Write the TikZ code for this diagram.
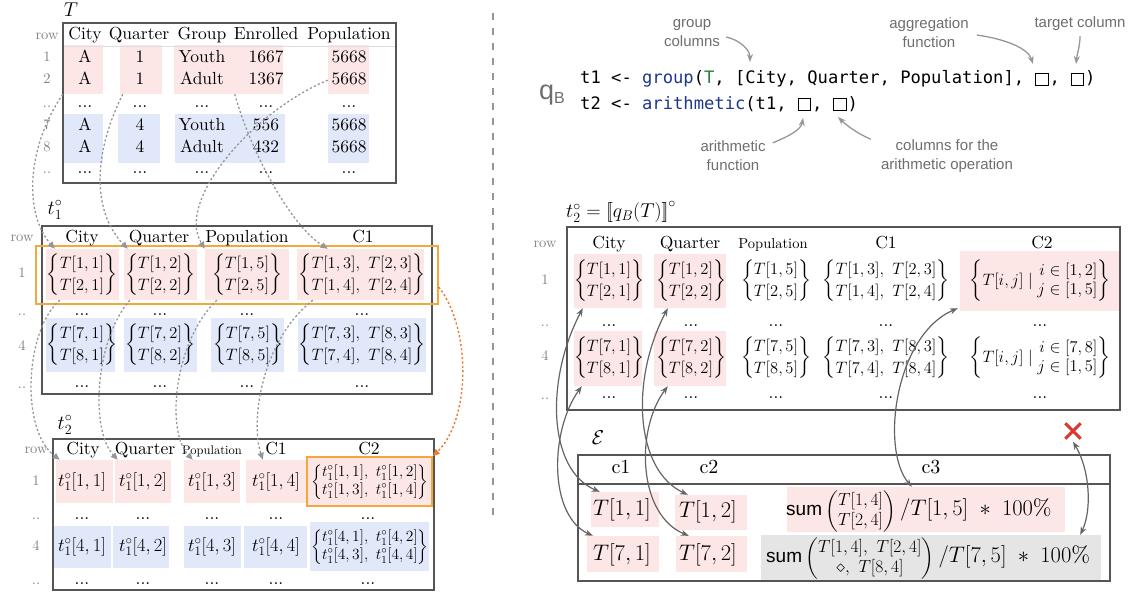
\RequirePackage{fix-cm}
\documentclass[tikz,border=0pt]{standalone}
\usepackage{amsmath}
\usepackage{fontspec}
\setmainfont{lmroman10-regular.otf}[ItalicFont=lmroman10-italic.otf, BoldFont=lmroman10-bold.otf]
\newfontfamily\annfont{Liberation Sans}
\newfontfamily\codefont{DejaVu Sans Mono}
\usetikzlibrary{fit,arrows.meta}
\definecolor{pinkc}{RGB}{252,231,230}
\definecolor{bluec}{RGB}{225,232,250}
\definecolor{grayc}{RGB}{229,229,229}
\definecolor{orangebox}{RGB}{244,168,60}
\definecolor{orangearr}{RGB}{231,124,48}
\definecolor{dashgray}{RGB}{150,150,150}
\definecolor{arrgray}{RGB}{100,100,100}
\definecolor{anngray}{RGB}{110,110,110}
\definecolor{rowgray}{RGB}{130,130,130}
\definecolor{tblc}{RGB}{85,85,85}
\definecolor{kwblue}{RGB}{30,55,140}
\definecolor{kwgreen}{RGB}{40,130,60}
\definecolor{xred}{RGB}{222,55,45}
\newcommand\mkblk[6]{\node[blk=#2, fit={(#3,#4) (#5,#6)}] (#1) {};}
\newcommand\twob[2]{$\left\{\begin{matrix}#1\\#2\end{matrix}\right\}$}
\newcommand\sq{\makebox[15pt]{\raisebox{-1pt}{\setlength{\fboxsep}{0pt}\setlength{\fboxrule}{1pt}\fbox{\rule{0pt}{11pt}\rule{11.5pt}{0pt}}}}}
\tikzset{
 cell/.style={inner sep=0pt, text height=12pt, text depth=3.5pt, font=\fontsize{17.5}{21}\selectfont},
 scell/.style={inner sep=0pt, text height=9pt, text depth=3pt, font=\fontsize{#1}{15}\selectfont},
 mcell/.style={inner sep=0pt, font=\fontsize{16.5}{20}\selectfont\renewcommand{\arraystretch}{1.1}},
 ecell/.style={inner sep=0pt, font=\fontsize{22.5}{26}\selectfont},
 epart/.style={inner sep=0pt, anchor=base west},
 dots/.style={inner sep=0pt, anchor=base, font=\fontsize{17.5}{21}\selectfont},
 rowlab/.style={inner sep=0pt, text=rowgray, text height=9pt, text depth=2.5pt, font=\fontsize{14.5}{16}\selectfont},
 rowdots/.style={inner sep=0pt, anchor=base, text=rowgray, font=\fontsize{14.5}{16}\selectfont},
 lab/.style={inner sep=0pt, font=\fontsize{20}{24}\selectfont},
 blk/.style={inner sep=0pt, fill=#1, draw=none},
 tbox/.style={inner sep=0pt, draw=tblc, line width=1.1pt},
 obox/.style={inner sep=0pt, draw=orangebox, line width=1.6pt},
 dconn/.style={draw=dashgray, line width=1.3pt, dash pattern=on 2.2pt off 2.2pt, -{Triangle[length=7pt,width=6pt]}},
 oconn/.style={draw=orangearr, line width=1.4pt, dash pattern=on 2.2pt off 2.2pt, -{Triangle[length=7pt,width=6pt]}},
 sconn/.style={draw=arrgray, line width=1.2pt, {Stealth[length=8pt,width=6pt]}-{Stealth[length=8pt,width=6pt]}},
 aconn/.style={draw=dashgray, line width=1.3pt, -{Stealth[length=8pt,width=6pt]}},
 ann/.style={inner sep=0pt, align=center, text=anngray, font=\annfont\fontsize{15}{19}\selectfont},
 code/.style={inner sep=0pt, anchor=west, font=\codefont\fontsize{17.15}{20}\selectfont},
}
\begin{document}
\begin{tikzpicture}[x=1pt,y=-1pt]
\useasboundingbox (0,0) rectangle (1131,592);
% ================= T =================
\node[lab] (Tlab) at (71,10) {$T$};
\mkblk{TCity1}{pinkc}{63}{45}{103}{94}
\mkblk{TQ1}{pinkc}{120}{45}{162}{94}
\mkblk{TGE1}{pinkc}{174}{45}{283}{94}
\mkblk{TP1}{pinkc}{328}{45}{369}{94}
\mkblk{TCity4}{bluec}{63}{114}{103}{163}
\mkblk{TQ4}{bluec}{118}{114}{160}{163}
\mkblk{TGE4}{bluec}{175}{114}{285}{163}
\mkblk{TP4}{bluec}{328}{114}{369}{163}
\node[tbox, fit={(63,23) (396,183)}] (Tbox) {};
\draw[tblc!20, line width=0.6pt] (64,46) -- (395,46);
\node[rowlab] (Tr0) at (47,36) {row};
\node[cell] (Th1) at (85,35) {City};
\node[cell] (Th2) at (139,35) {Quarter};
\node[cell] (Th3) at (202,35) {Group};
\node[cell] (Th4) at (266,35) {Enrolled};
\node[cell] (Th5) at (349,35) {Population};
\node[rowlab] (Tr1) at (47,58) {1};
\node[rowlab] (Tr2) at (47,80) {2};
\node[rowdots] (Tr3) at (47,107) {..};
\node[rowlab] (Tr7) at (47,126) {7};
\node[rowlab] (Tr8) at (47,148) {8};
\node[rowdots] (Tr9) at (47,173) {..};
\foreach \r/\yy/\a/\q/\g/\e in {1/58/A/1/Youth/1667, 2/80/A/1/Adult/1367, 7/126/A/4/Youth/556, 8/148/A/4/Adult/432}{
  \node[cell] (Tc\r a) at (85,\yy) {\a};
  \node[cell] (Tc\r b) at (140,\yy) {\q};
  \node[cell] (Tc\r c) at (202,\yy) {\g};
  \node[cell] (Tc\r d) at (266,\yy) {\e};
  \node[cell] (Tc\r e) at (349,\yy) {5668};
}
\foreach \xx [count=\i] in {85,140,202,266,349}{
  \node[dots] (Td\i) at (\xx,107) {...};
  \node[dots] (Te\i) at (\xx,173) {...};
}
% ================= t1 =================
\node[lab] (t1lab) at (55,210) {$t_1^\circ$};
\mkblk{A1City}{pinkc}{46}{249}{119}{300}
\mkblk{A1Q}{pinkc}{124}{249}{197}{300}
\mkblk{A1P}{pinkc}{205}{249}{289}{300}
\mkblk{A1C1}{pinkc}{297}{249}{424}{300}
\mkblk{A4City}{bluec}{46}{318}{115}{372}
\mkblk{A4Q}{bluec}{124}{318}{197}{372}
\mkblk{A4P}{bluec}{211}{318}{284}{372}
\mkblk{A4C1}{bluec}{298}{318}{426}{372}
\node[tbox, fit={(42,226) (432,394)}] (t1box) {};
\node[obox, fit={(36,246) (438,304)}] (O1) {};
\node[rowlab] (Ar0) at (22,238) {row};
\node[cell] (Ah1) at (82,238) {City};
\node[cell] (Ah2) at (159,238) {Quarter};
\node[cell] (Ah3) at (247,238) {Population};
\node[cell] (Ah4) at (363,238) {C1};
\node[rowlab] (Ar1) at (22,274) {1};
\node[rowdots] (Ar2) at (22,315) {..};
\node[rowlab] (Ar4) at (22,347) {4};
\node[rowdots] (Ar5) at (22,388) {..};
\node[mcell] (A1a) at (82,275) {\twob{T[1,1]}{T[2,1]}};
\node[mcell] (A1b) at (160,275) {\twob{T[1,2]}{T[2,2]}};
\node[mcell] (A1c) at (247,275) {\twob{T[1,5]}{T[2,5]}};
\node[mcell] (A1d) at (362,275) {\twob{T[1,3],\ T[2,3]}{T[1,4],\ T[2,4]}};
\node[mcell] (A4a) at (82,345) {\twob{T[7,1]}{T[8,1]}};
\node[mcell] (A4b) at (160,345) {\twob{T[7,2]}{T[8,2]}};
\node[mcell] (A4c) at (248,345) {\twob{T[7,5]}{T[8,5]}};
\node[mcell] (A4d) at (362,345) {\twob{T[7,3],\ T[8,3]}{T[7,4],\ T[8,4]}};
\foreach \xx [count=\i] in {82,160,247,362}{
  \node[dots] (Ad\i) at (\xx,315) {...};
  \node[dots] (Ae\i) at (\xx,387) {...};
}
% ================= t2 (left) =================
\node[lab] (t2lab) at (65,425) {$t_2^\circ$};
\mkblk{B1City}{pinkc}{56}{460}{113}{503}
\mkblk{B1Q}{pinkc}{115}{460}{171}{503}
\mkblk{B1P}{pinkc}{184}{460}{240}{503}
\mkblk{B1C1}{pinkc}{246}{460}{306}{503}
\mkblk{B1C2}{pinkc}{308}{458}{431}{505}
\mkblk{B4City}{bluec}{54}{526}{111}{568}
\mkblk{B4Q}{bluec}{113}{526}{169}{568}
\mkblk{B4P}{bluec}{184}{526}{241}{568}
\mkblk{B4C1}{bluec}{244}{526}{307}{568}
\mkblk{B4C2}{bluec}{310}{522}{429}{571}
\node[tbox, fit={(53,439) (434,590)}] (t2box) {};
\node[obox, fit={(307,457) (432,506)}] (O2) {};
\node[rowlab] (Br0) at (36,450) {row};
\node[cell] (Bh1) at (83,450) {City};
\node[cell] (Bh2) at (145,450) {Quarter};
\node[scell=12.5] (Bh3) at (212,451) {Population};
\node[cell] (Bh4) at (276,450) {C1};
\node[cell] (Bh5) at (369,450) {C2};
\node[rowlab] (Br1) at (36,482) {1};
\node[rowdots] (Br2) at (36,519) {..};
\node[rowlab] (Br4) at (36,547) {4};
\node[rowdots] (Br5) at (36,584) {..};
\foreach \r/\yy in {1/482,4/547}{
  \node[cell, font=\fontsize{18.5}{21}\selectfont] (B\r a) at (82,\yy) {$t_1^\circ[\r,1]$};
  \node[cell, font=\fontsize{18.5}{21}\selectfont] (B\r b) at (143,\yy) {$t_1^\circ[\r,2]$};
  \node[cell, font=\fontsize{18.5}{21}\selectfont] (B\r c) at (212,\yy) {$t_1^\circ[\r,3]$};
  \node[cell, font=\fontsize{18.5}{21}\selectfont] (B\r d) at (276,\yy) {$t_1^\circ[\r,4]$};
  \node[inner sep=0pt, font=\fontsize{15.5}{18}\selectfont] (B\r e) at (370,\yy)
    {\twob{t_1^\circ[\r,1],\ t_1^\circ[\r,2]}{t_1^\circ[\r,3],\ t_1^\circ[\r,4]}};
}
\foreach \xx [count=\i] in {82,143,212,276,368}{
  \node[dots] (Bd\i) at (\xx,519) {...};
  \node[dots] (Be\i) at (\xx,584) {...};
}
% ================= divider =================
\draw[dashgray, line width=1.2pt, dash pattern=on 7pt off 8pt] (493,13) -- (493,518);
% ================= program =================
\node[inner sep=0pt, text=anngray] (qB) at (552,95) {\annfont\fontsize{27}{27}\selectfont q\raisebox{-4pt}{\fontsize{16}{16}\selectfont B}};
\node[code] (code1) at (580,79) {t1 <- \textcolor{kwblue}{group}(\textcolor{kwgreen}{T}, [City, Quarter, Population], \sq, \sq)};
\node[code] (code2) at (580,104) {t2 <- \textcolor{kwblue}{arithmetic}(t1, \sq, \sq)};
\node[ann] (grpann) at (692,33) {group\\columns};
\node[ann] (aggann) at (929,33) {aggregation\\function};
\node[ann] (tgtann) at (1080,24) {target column};
\node[ann] (arithann) at (733,156) {arithmetic\\function};
\node[ann] (colsann) at (947,156) {columns for the\\arithmetic operation};
\coordinate (hgrp) at (750,62);
\coordinate (hagg) at (1033,64);
\coordinate (htgt) at (1076,64);
\coordinate (harith) at (803,118);
\coordinate (hcols) at (838,117);
\draw[aconn] ([shift={(6pt,-4pt)}]grpann.east) .. controls +(14,3) and +(0,-12) .. (hgrp);
\draw[aconn] ([shift={(8pt,-2pt)}]aggann.east) .. controls +(28,4) and +(-5,-16) .. (hagg);
\draw[aconn] ([yshift=-5pt]tgtann.south) .. controls +(0,10) and +(1,-10) .. (htgt);
\draw[aconn] ([shift={(7pt,-2pt)}]arithann.north east) .. controls +(15,-6) and +(-2,12) .. (harith);
\draw[aconn] ([shift={(-10pt,0pt)}]colsann.north west) .. controls +(-14,-6) and +(8,8) .. (hcols);
% ================= t2 (right) =================
\node[lab, anchor=west] (rlab) at (566,212) {$t_2^\circ = \mathopen{[\mkern-3mu[} q_B(T) \mathclose{]\mkern-3mu]}^\circ$};
\mkblk{R1City}{pinkc}{574}{254}{642}{308}
\mkblk{R1Q}{pinkc}{654}{254}{726}{308}
\mkblk{R1C2}{pinkc}{960}{251}{1120}{311}
\mkblk{R4City}{pinkc}{574}{331}{642}{386}
\mkblk{R4Q}{pinkc}{654}{331}{726}{386}
\node[tbox, fit={(567,227) (1120,410)}] (rbox) {};
\node[rowlab] (Rr0) at (545,244) {row};
\node[cell] (Rh1) at (609,244) {City};
\node[cell] (Rh2) at (690,244) {Quarter};
\node[scell=14.5] (Rh3) at (773,245) {Population};
\node[cell] (Rh4) at (886,244) {C1};
\node[cell] (Rh5) at (1042,244) {C2};
\node[rowlab] (Rr1) at (545,281) {1};
\node[rowdots] (Rr2) at (545,326) {..};
\node[rowlab] (Rr4) at (545,357) {4};
\node[rowdots] (Rr5) at (545,399) {..};
\node[mcell] (R1a) at (609,281) {\twob{T[1,1]}{T[2,1]}};
\node[mcell] (R1b) at (691,281) {\twob{T[1,2]}{T[2,2]}};
\node[mcell] (R1c) at (776,281) {\twob{T[1,5]}{T[2,5]}};
\node[mcell] (R1d) at (886,281) {\twob{T[1,3],\ T[2,3]}{T[1,4],\ T[2,4]}};
\node[mcell, font=\fontsize{16.5}{19}\selectfont] (R1e) at (1040,281) {$\left\{T[i,j]\mid\begin{array}{@{}r@{}}i\in[1,2]\\ j\in[1,5]\end{array}\right\}$};
\node[mcell] (R4a) at (609,358) {\twob{T[7,1]}{T[8,1]}};
\node[mcell] (R4b) at (691,358) {\twob{T[7,2]}{T[8,2]}};
\node[mcell] (R4c) at (776,358) {\twob{T[7,5]}{T[8,5]}};
\node[mcell] (R4d) at (886,358) {\twob{T[7,3],\ T[8,3]}{T[7,4],\ T[8,4]}};
\node[mcell, font=\fontsize{16.5}{19}\selectfont] (R4e) at (1040,358) {$\left\{T[i,j]\mid\begin{array}{@{}r@{}}i\in[7,8]\\ j\in[1,5]\end{array}\right\}$};
\foreach \xx [count=\i] in {609,691,776,886,1040}{
  \node[dots] (Rd\i) at (\xx,326) {...};
  \node[dots] (Re\i) at (\xx,398) {...};
}
% ================= E =================
\node[lab] (Elab) at (598,438) {$\mathcal{E}$};
\mkblk{E11}{pinkc}{591}{492}{659}{527}
\mkblk{E12}{pinkc}{675}{495}{747}{530}
\mkblk{E13}{pinkc}{787}{487}{1065}{532}
\mkblk{E21}{pinkc}{587}{536}{659}{572}
\mkblk{E22}{pinkc}{676}{536}{747}{572}
\mkblk{E23}{grayc}{761}{535}{1101}{580}
\node[tbox, fit={(578,455) (1110,581)}] (Ebox) {};
\draw[tblc, line width=1.1pt] (578,484) -- (1110,484);
\node[cell, font=\fontsize{20}{24}\selectfont] (Eh1) at (621,469) {c1};
\node[cell, font=\fontsize{20}{24}\selectfont] (Eh2) at (709,469) {c2};
\node[cell, font=\fontsize{20}{24}\selectfont] (Eh3) at (931,469) {c3};
\node[ecell] (E11t) at (622,510) {$T[1,1]$};
\node[ecell] (E12t) at (708,512) {$T[1,2]$};
\node[ecell] (E21t) at (622,555) {$T[7,1]$};
\node[ecell] (E22t) at (708,555) {$T[7,2]$};
% row 1, c3
\node[epart, font=\annfont\fontsize{19}{22}\selectfont] (E13s) at (786,515.5) {sum};
\node[epart, font=\fontsize{17.5}{20}\selectfont] (E13m) at ([xshift=3pt]E13s.base east) {$\left(\begin{matrix}T[1,4]\\T[2,4]\end{matrix}\right)$};
\node[epart, font=\fontsize{22.5}{26}\selectfont] (E13r) at ([xshift=4pt]E13m.base east) {$/T[1,5]\;\ast\;100\%$};
% row 2, c3
\node[epart, font=\annfont\fontsize{19}{22}\selectfont] (E23s) at (766,562.5) {sum};
\node[epart, font=\fontsize{17.5}{20}\selectfont] (E23m) at ([xshift=3pt]E23s.base east) {$\left(\begin{matrix}T[1,4],\ T[2,4]\\{\diamond},\ T[8,4]\end{matrix}\right)$};
\node[epart, font=\fontsize{22.5}{26}\selectfont] (E23r) at ([xshift=4pt]E23m.base east) {$/T[7,5]\;\ast\;100\%$};
\node[inner sep=0pt, minimum size=15pt] (xmark) at (1073,431) {};
\draw[xred, line width=3pt] (xmark.north west) -- (xmark.south east) (xmark.north east) -- (xmark.south west);
% ================= dashed connectors (left) =================
\draw[dconn] (TCity1.south west) .. controls (25,150) and (25,215) .. ([xshift=9pt]A1City.north west);
\draw[dconn] ([xshift=3pt]TQ1.south west) .. controls (90,160) and (95,215) .. ([xshift=4pt]A1Q.north west);
\draw[dconn] ([xshift=61pt]TGE1.south west) .. controls (250,150) and (290,225) .. ([xshift=31pt]A1C1.north west);
\draw[dconn] ([yshift=14pt]TP1.south west) .. controls (255,110) and (175,200) .. (A1P.north west);
\draw[dconn] ([xshift=14pt]A1City.south west) .. controls (25,330) and (20,430) .. ([xshift=4pt]B1City.north west);
\draw[dconn] ([xshift=6pt]A1Q.south west) .. controls (95,340) and (90,430) .. ([xshift=3pt]B1Q.north west);
\draw[dconn] ([xshift=12pt]A1P.south west) .. controls (175,340) and (165,430) .. ([xshift=9pt]B1P.north west);
\draw[dconn] ([xshift=16pt]A1C1.south west) .. controls (262,340) and (250,420) .. ([xshift=17pt]B1C1.north west);
\draw[oconn] ([yshift=-12pt]O1.east) .. controls (472,330) and (470,420) .. (O2.north east);
% ================= solid connectors (right) =================
\draw[sconn] ([xshift=9pt]R1City.south west) .. controls (545,380) and (548,470) .. ([xshift=9pt]E11.north west);
\draw[sconn] ([xshift=8pt]R4City.south west) .. controls (550,430) and (548,515) .. ([xshift=6pt]E21.north west);
\draw[sconn] ([xshift=14pt]R1Q.south west) .. controls (630,380) and (635,470) .. ([xshift=13pt]E12.north west);
\draw[sconn] ([xshift=14pt]R4Q.south west) .. controls (635,430) and (638,515) .. ([xshift=13pt]E22.north west);
\draw[sconn] ([xshift=-2pt,yshift=3pt]R1C2.south west) .. controls (895,335) and (880,450) .. ([xshift=125pt]E13.north west);
\draw[sconn] ([yshift=-3pt]xmark.south) .. controls (1090,470) and (1092,510) .. ([xshift=-21pt]E23.north east);
\end{tikzpicture}
\end{document}
